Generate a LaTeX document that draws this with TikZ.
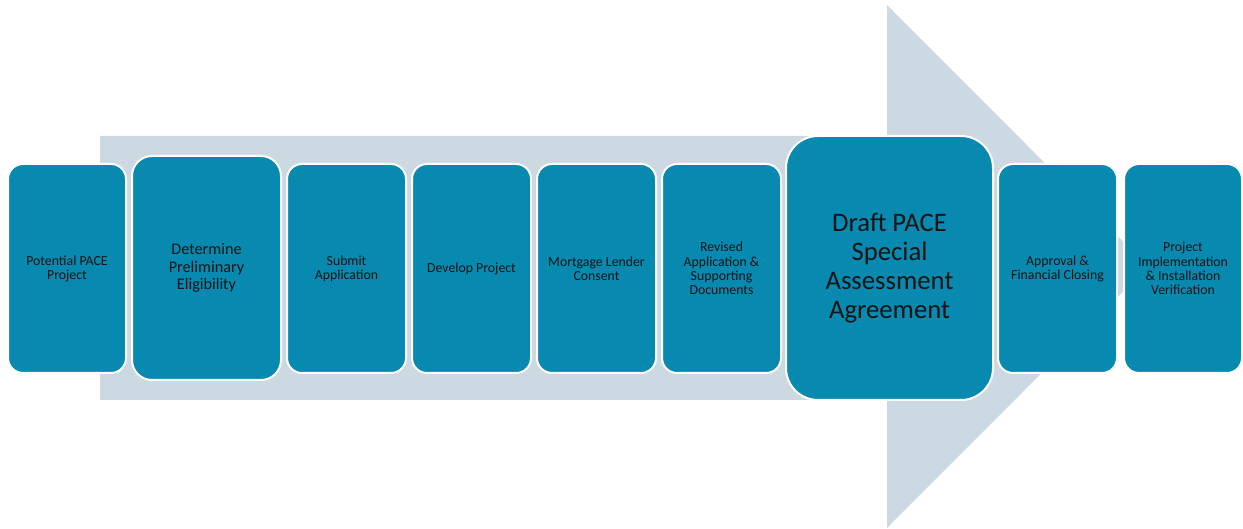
\documentclass[tikz,border=0pt]{standalone}
\usepackage{fontspec}
\setmainfont{Carlito}
\definecolor{boxblue}{RGB}{7,137,176}
\definecolor{arrowgray}{RGB}{204,217,227}
\definecolor{txt}{RGB}{20,20,20}
\begin{document}
\begin{tikzpicture}[x=1pt,y=-1pt,
  stepbox/.style={draw=white, line width=2pt, fill=boxblue, rounded corners=15pt,
    align=center, text=txt, inner sep=0pt, font=\fontsize{13.8}{14.2}\selectfont},
  midbox/.style={stepbox, rounded corners=20pt, font=\fontsize{16.2}{17.6}\selectfont},
  bigbox/.style={stepbox, rounded corners=32pt, font=\fontsize{26.7}{29}\selectfont}]
\useasboundingbox (0,0) rectangle (1243,529);
\fill[arrowgray] (100,136) -- (887,136) -- (887,5) -- (1148,266.5) -- (887,528) -- (887,400) -- (100,400) -- cycle;
\newcommand{\stepnode}[7]{%
  \node[#1, minimum width={#4-#3}, minimum height={#6-#5}] (#2) at ({(#3+#4)/2},{(#5+#6)/2}) {#7};}
\stepnode{stepbox}{n1}{8}{126}{164}{373}{Potential PACE\\Project}
\stepnode{midbox}{n2}{132}{281}{156}{380}{Determine\\Preliminary\\Eligibility}
\stepnode{stepbox}{n3}{287}{406}{164}{373}{Submit\\Application}
\stepnode{stepbox}{n4}{412}{531}{164}{373}{Develop Project}
\stepnode{stepbox}{n5}{537}{656}{164}{373}{Mortgage Lender\\Consent}
\stepnode{stepbox}{n6}{662}{781}{164}{373}{Revised\\Application \&\\Supporting\\Documents}
\stepnode{bigbox}{n7}{786}{993}{136}{400}{Draft PACE\\Special\\Assessment\\Agreement}
\stepnode{stepbox}{n8}{998}{1117}{164}{373}{Approval \&\\Financial Closing}
\stepnode{stepbox}{n9}{1124}{1242}{164}{373}{Project\\Implementation\\\& Installation\\Verification}
\end{tikzpicture}
\end{document}
